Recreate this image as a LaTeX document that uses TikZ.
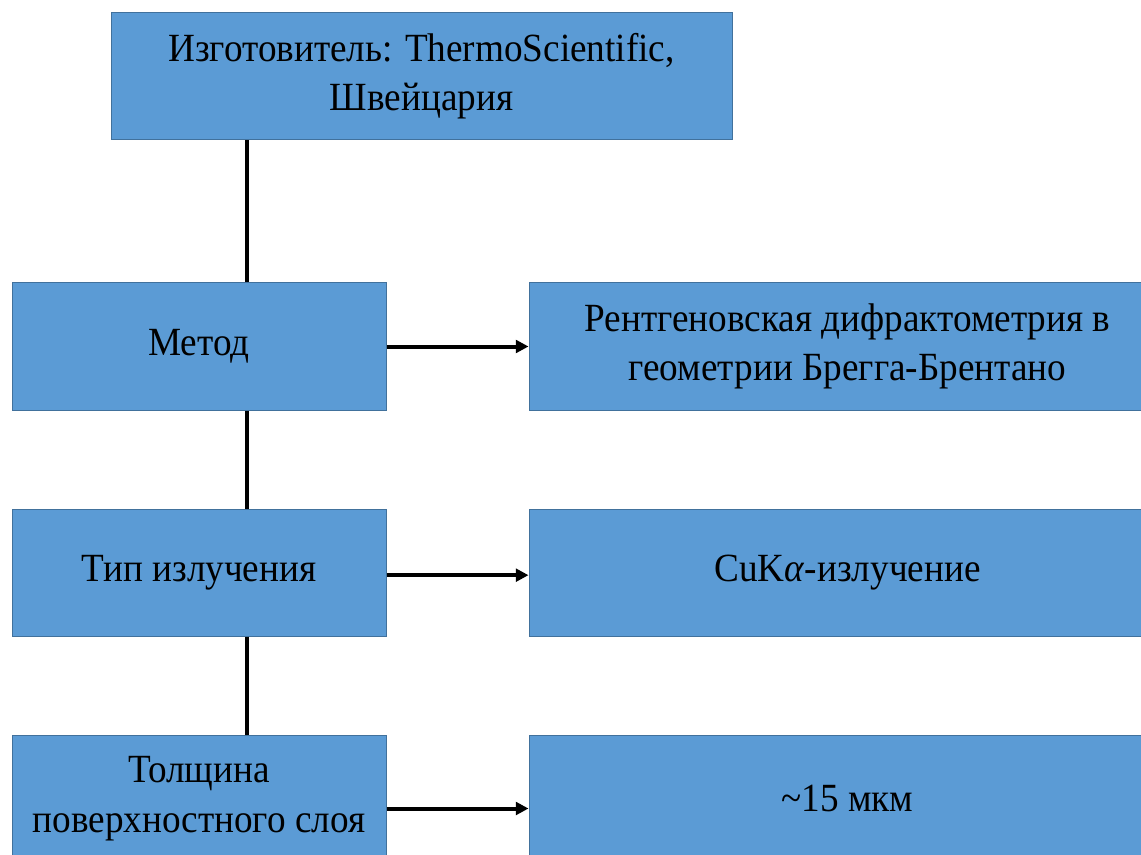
\documentclass[tikz,border=0pt]{standalone}
\usepackage{fontspec}
\setmainfont{Liberation Serif}[FakeStretch=0.93]
\usetikzlibrary{arrows.meta, positioning}
\definecolor{cfill}{HTML}{5B9BD5}
\definecolor{cedge}{HTML}{41719C}
\tikzset{
  every picture/.style={font=\fontsize{30}{37}\selectfont},
  box/.style={draw=cedge, fill=cfill, line width=0.75pt, align=center, minimum height=95.25pt, inner sep=0pt},
  leftbox/.style={box, minimum width=280.5pt},
  rightbox/.style={box, minimum width=477.75pt},
  arrow/.style={-{Triangle[length=9.5pt, width=9.5pt]}, line width=3pt},
  link/.style={line width=3pt},
}
\begin{document}
\begin{tikzpicture}[x=0.75pt, y=-0.75pt]
  \useasboundingbox (0,0) rectangle (1141,855);
  \clip (0,0) rectangle (1141,855);
  \node[box, minimum width=465.75pt] (maker) at (421.5,76.5) {Изготовитель: ThermoScientific,\\Швейцария};
  \node[leftbox] (method) at (199,346.5) {Метод};
  \node[leftbox, below=73.5pt of method] (rad) {Тип излучения};
  \node[leftbox, below=73.5pt of rad] (layer) {Толщина\\поверхностного слоя};
  \node[rightbox, right=106.5pt of method] (xrd) {Рентгеновская дифрактометрия в\\геометрии Брегга-Брентано};
  \node[rightbox, right=106.5pt of rad] (cuka) {CuK\textit{α}-излучение};
  \node[rightbox, right=106.5pt of layer] (depth) {\textasciitilde15 мкм};
  \coordinate (spine) at (247,0);
  % vertical spine
  \draw[link] (maker.south -| spine) -- (method.north -| spine);
  \draw[link] (method.south -| spine) -- (rad.north -| spine);
  \draw[link] (rad.south -| spine) -- (layer.north -| spine);
  \draw[arrow] (method) -- (xrd); \draw[arrow] ([yshift=-2pt]rad.east) -- ([yshift=-2pt]cuka.west);
  \draw[arrow] ([yshift=-7.5pt]layer.east) -- ([yshift=-7.5pt]depth.west);
\end{tikzpicture}
\end{document}
